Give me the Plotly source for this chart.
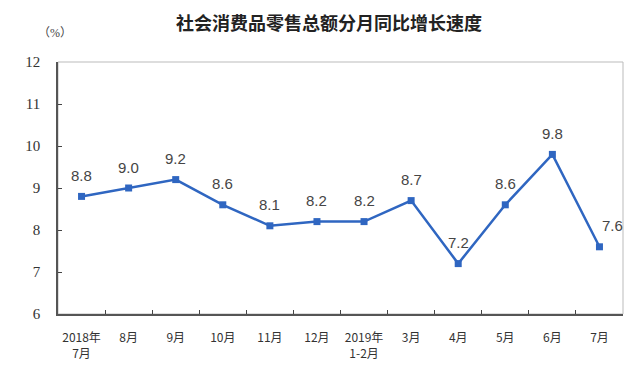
import plotly.graph_objects as go

categories = ["2018年<br>7月", "8月", "9月", "10月", "11月", "12月", "2019年<br>1-2月",
              "3月", "4月", "5月", "6月", "7月"]
values = [8.8, 9.0, 9.2, 8.6, 8.1, 8.2, 8.2, 8.7, 7.2, 8.6, 9.8, 7.6]
labels = ["8.8", "9.0", "9.2", "8.6", "8.1", "8.2", "8.2", "8.7", "7.2", "8.6", "9.8", "7.6"]
y_ticks = [6, 7, 8, 9, 10, 11, 12]

blue = "#2F66C1"
fig = go.Figure()
fig.add_trace(go.Scatter(
    x=categories, y=values, mode="lines+markers",
    line=dict(color=blue, width=2.5),
    marker=dict(symbol="square", size=7, color=blue),
    cliponaxis=False, showlegend=False,
))

annotations = []
for i, (c, v, t) in enumerate(zip(categories, values, labels)):
    annotations.append(dict(
        x=c, y=v, text=t, showarrow=False, xref="x", yref="y",
        yshift=21, xshift=13 if i == len(values) - 1 else 0,
        xanchor="center", yanchor="middle",
        font=dict(family="Liberation Sans, Arial", size=15, color="#454545")))
annotations.append(dict(text="（%）", xref="paper", yref="paper", x=-0.005, y=1.115,
                        showarrow=False, xanchor="center", yanchor="middle",
                        font=dict(family="Liberation Serif, Noto Sans CJK SC", size=12, color="#444444")))

fig.update_layout(
    width=640, height=369,
    margin=dict(l=58, r=17, t=62, b=55),
    paper_bgcolor="white", plot_bgcolor="white",
    title=dict(text="<b>社会消费品零售总额分月同比增长速度</b>", x=0.514, xanchor="center",
               y=0.937, yanchor="middle",
               font=dict(family="Noto Sans CJK SC", size=18, color="#222222")),
    xaxis=dict(type="category", tickson="boundaries", ticks="inside", ticklen=4,
               range=[-0.5, len(categories) - 0.5], tickangle=0,
               tickcolor="#444444", showline=True, linecolor="#555555", linewidth=1.5,
               showgrid=False, mirror=False, automargin=False, ticklabelstandoff=12,
               tickfont=dict(family="Noto Sans CJK SC, Liberation Serif", size=12, color="#333333")),
    yaxis=dict(range=[6, 12], tickvals=y_ticks, ticks="inside", ticklen=4,
               tickcolor="#444444", showline=True, linecolor="#555555", linewidth=1.5,
               showgrid=False, zeroline=False, automargin=False, ticklabelstandoff=13,
               tickfont=dict(family="Liberation Serif", size=15, color="#333333")),
    shapes=[dict(type="rect", xref="paper", yref="paper", x0=0, y0=0, x1=1, y1=1,
                 line=dict(color="#BBBBBB", width=1), layer="below")],
    annotations=annotations,
)
fig.write_html("out.html")
